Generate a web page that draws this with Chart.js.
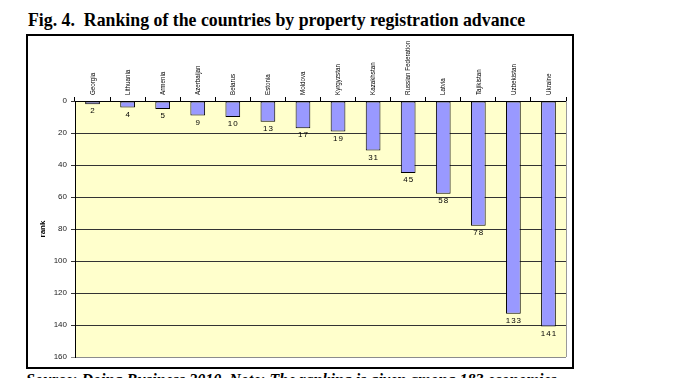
<!DOCTYPE html>
<html>
<head>
<meta charset="utf-8">
<script src="https://cdn.jsdelivr.net/npm/chart.js@4"></script>
<style>
  html, body { margin: 0; padding: 0; background: #fff; width: 679px; height: 378px; overflow: hidden; }
  #title { position: absolute; left: 28px; top: 10px; font: bold 17.8px "Liberation Serif", "Times New Roman", serif; color: #000; white-space: nowrap; }
  #box { position: absolute; left: 26px; top: 34px; width: 544px; height: 331px; border: 2px solid #000; }
  #foot { position: absolute; left: 26px; top: 371px; font: italic bold 16px "Liberation Serif", "Times New Roman", serif; color: #000; white-space: nowrap; }
  #wrap { position: absolute; left: 0; top: 0; width: 679px; height: 378px; }
</style>
</head>
<body>
<div id="title">Fig. 4.&nbsp; Ranking of the countries by property registration advance</div>
<div id="box"></div>
<div id="foot">Source: Doing Business 2010. Note: The ranking is given among 183 economies.</div>
<div id="wrap"><canvas id="c" width="679" height="378"></canvas></div>
<script>
const countries = ["Georgia", "Lithuania", "Armenia", "Azerbaijan", "Belarus", "Estonia", "Moldova", "Kyrgyzstan", "Kazakhstan", "Russian Federation", "Latvia", "Tajikistan", "Uzbekistan", "Ukraine"];
const ranks = [2, 4, 5, 9, 10, 13, 17, 19, 31, 45, 58, 78, 133, 141];
const yTicks = [0, 20, 40, 60, 80, 100, 120, 140, 160];
const axisTitle = "rank";

const plotBg = {
  id: 'plotBg',
  beforeDraw(chart) {
    const {ctx, chartArea: a} = chart;
    ctx.save();
    ctx.fillStyle = '#FFFFCC';
    ctx.fillRect(a.left, a.top, a.right - a.left, a.bottom - a.top);
    ctx.restore();
  },
  afterDraw(chart) {
    const {ctx, chartArea: a} = chart;
    ctx.save();
    ctx.strokeStyle = '#9a9a9a';
    ctx.lineWidth = 1;
    ctx.beginPath();
    ctx.moveTo(Math.round(a.right) + 0.5, a.top);
    ctx.lineTo(Math.round(a.right) + 0.5, a.bottom);
    ctx.stroke();
    // narrow, rotated category labels above the top axis
    const xs = chart.scales.x;
    ctx.fillStyle = '#000';
    ctx.font = '8px "Liberation Sans", Arial, sans-serif';
    ctx.textAlign = 'left';
    ctx.textBaseline = 'middle';
    countries.forEach((name, i) => {
      const x = xs.getPixelForTick(i);
      ctx.save();
      ctx.translate(x, a.top - 6);
      ctx.rotate(-Math.PI / 2);
      ctx.scale(0.78, 1);
      ctx.fillText(name, 0, 0);
      ctx.restore();
    });
    ctx.restore();
  }
};

const valueLabels = {
  id: 'valueLabels',
  afterDatasetsDraw(chart) {
    const {ctx} = chart;
    const meta = chart.getDatasetMeta(0);
    ctx.save();
    ctx.fillStyle = '#000';
    ctx.font = '8px "Liberation Sans", Arial, sans-serif';
    ctx.textAlign = 'center';
    ctx.textBaseline = 'top';
    try { ctx.letterSpacing = '1px'; } catch (e) {}
    meta.data.forEach((bar, i) => {
      ctx.fillText(String(ranks[i]), bar.x + 0.5, bar.y + 3);
    });
    ctx.restore();
  }
};

new Chart(document.getElementById('c'), {
  type: 'bar',
  data: {
    labels: countries,
    datasets: [{
      data: ranks,
      backgroundColor: '#9999FF',
      borderColor: '#000000',
      borderWidth: 1,
      borderSkipped: false,
      categoryPercentage: 1,
      barPercentage: 0.42
    }]
  },
  options: {
    responsive: false,
    animation: false,
    devicePixelRatio: 1,
    layout: { padding: { left: 38, top: 0, right: 113, bottom: 21 } },
    plugins: { legend: { display: false }, tooltip: { enabled: false }, title: { display: false } },
    scales: {
      x: {
        position: 'top',
        grid: { offset: true, drawOnChartArea: false, drawTicks: true, tickLength: 4, color: '#000' },
        border: { display: true, color: '#000', width: 1 },
        ticks: { display: false, autoSkip: false },
        afterFit(s) { s.height = 101; }
      },
      y: {
        reverse: true,
        min: 0, max: 160,
        afterBuildTicks(s) { s.ticks = yTicks.map(v => ({ value: v })); },
        grid: {
          drawTicks: true, tickLength: 4,
          color: ctx => (ctx.tick && ctx.tick.value === 160) ? '#8c8c8c' : '#333333',
          lineWidth: 1
        },
        border: { display: true, color: '#000', width: 1 },
        ticks: {
          padding: 4, color: '#222',
          font: { family: '"Liberation Sans", Arial, sans-serif', size: 8 }
        },
        title: {
          display: true, text: axisTitle, color: '#000', padding: 0,
          font: { family: '"Liberation Sans", Arial, sans-serif', size: 8, weight: 'bold' }
        },
        afterFit(s) { s.width = 37; }
      }
    }
  },
  plugins: [plotBg, valueLabels]
});
</script>
</body>
</html>
